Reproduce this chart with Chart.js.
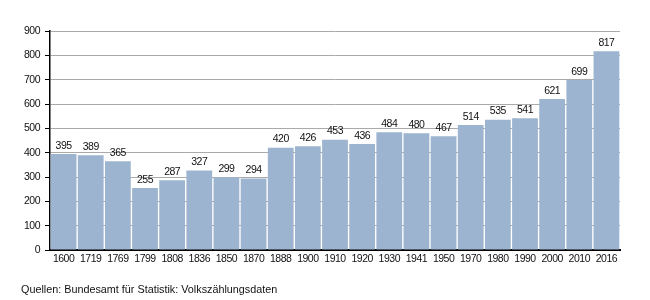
<!DOCTYPE html>
<html>
<head>
<meta charset="utf-8">
<script src="https://cdn.jsdelivr.net/npm/chart.js@4/dist/chart.umd.min.js"></script>
<style>
  html, body { margin: 0; padding: 0; background: #fff; }
  #wrap { width: 650px; height: 300px; }
</style>
</head>
<body>
<div id="wrap"><canvas id="popChart" width="650" height="300"></canvas></div>
<script>
// Einwohner je Jahr
const years = ['1600', '1719', '1769', '1799', '1808', '1836', '1850', '1870', '1888', '1900', '1910',
  '1920', '1930', '1941', '1950', '1970', '1980', '1990', '2000', '2010', '2016'];
const population = [395, 389, 365, 255, 287, 327, 299, 294, 420, 426, 453,
  436, 484, 480, 467, 514, 535, 541, 621, 699, 817];
const yTicks = [0, 100, 200, 300, 400, 500, 600, 700, 800, 900];
const sourceNote = 'Quellen: Bundesamt für Statistik: Volkszählungsdaten';

const FONT = '"Liberation Sans", Arial, sans-serif';

// tighter digits like the original
const spacingPlugin = {
  id: 'spacing',
  beforeDraw(chart) { chart.ctx.letterSpacing = '-0.5px'; }
};

// values above bars + source line
const labelPlugin = {
  id: 'labels',
  afterDatasetsDraw(chart) {
    const ctx = chart.ctx;
    const meta = chart.getDatasetMeta(0);
    ctx.save();
    ctx.font = '10.5px ' + FONT;
    ctx.fillStyle = '#111';
    ctx.textAlign = 'center';
    ctx.textBaseline = 'bottom';
    meta.data.forEach(function(bar, i) {
      ctx.fillText(population[i], bar.x, bar.y - 3);
    });
    ctx.letterSpacing = '0px';
    ctx.font = '10.8px ' + FONT;
    ctx.textAlign = 'left';
    ctx.textBaseline = 'middle';
    ctx.fillText(sourceNote, 21, 290);
    ctx.restore();
  }
};

new Chart(document.getElementById('popChart'), {
  type: 'bar',
  data: {
    labels: years,
    datasets: [{
      data: population,
      backgroundColor: '#9cb4cf',
      borderWidth: 0,
      barPercentage: 0.95,
      categoryPercentage: 1
    }]
  },
  options: {
    responsive: false,
    animation: false,
    layout: { padding: { top: 31, right: 30, left: 0, bottom: 0 } },
    plugins: { legend: { display: false }, tooltip: { enabled: false } },
    scales: {
      x: {
        grid: { display: false, drawTicks: false },
        border: { color: '#000', width: 2 },
        ticks: { color: '#111', font: { family: FONT, size: 10.5 }, padding: 3, maxRotation: 0, autoSkip: false },
        afterFit(s) { s.height = 50; }
      },
      y: {
        min: 0,
        max: 900,
        afterBuildTicks(s) { s.ticks = yTicks.map(v => ({ value: v })); },
        grid: { color: '#aaa', tickColor: '#000', tickLength: 5, lineWidth: 1 },
        border: { color: '#000', width: 1.5 },
        ticks: { color: '#111', font: { family: FONT, size: 10.5 }, padding: 5 },
        afterFit(s) { s.width = 50; }
      }
    }
  },
  plugins: [spacingPlugin, labelPlugin]
});
</script>
</body>
</html>
